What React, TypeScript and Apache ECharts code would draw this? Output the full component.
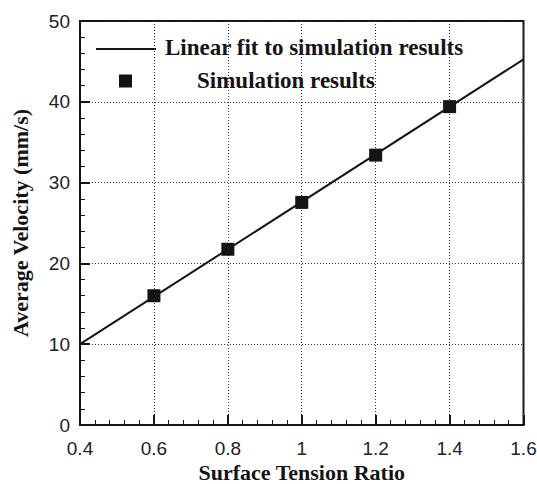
import React, { useEffect, useRef } from "react";
import * as echarts from "echarts";

const simX = [0.6, 0.8, 1.0, 1.2, 1.4];
const simY = [16.0, 21.75, 27.55, 33.4, 39.4];
const fitX = [0.4, 1.6];
const fitY = [10.0, 45.25];
const xTicks = { min: 0.4, max: 1.6, interval: 0.2 };
const yTicks = { min: 0, max: 50, interval: 10 };
const legendNames = ["Linear fit to simulation results", "Simulation results"];
const xTitle = "Surface Tension Ratio";
const yTitle = "Average Velocity (mm/s)";

const INK = "#141414";
const SERIF = "'Liberation Serif', 'Times New Roman', serif";
const SANS = "'Liberation Sans', Arial, sans-serif";

export default function App() {
  const ref = useRef<HTMLDivElement>(null);
  useEffect(() => {
    if (!ref.current) return;
    const chart = echarts.init(ref.current, undefined, { renderer: "svg" });
    const axisCommon = {
      axisLine: { show: true, onZero: false, lineStyle: { color: INK, width: 2 } },
      axisTick: { show: true, inside: true, length: 10, lineStyle: { color: INK, width: 2 } },
      minorTick: { show: true, splitNumber: 5, length: 5, lineStyle: { color: INK, width: 1 } },
      splitLine: { show: true, lineStyle: { color: "#333", width: 1, type: [1, 2] } },
      axisLabel: { color: "#222", fontSize: 19, fontFamily: SANS },
      nameTextStyle: { color: INK, fontSize: 23, fontWeight: "bold", fontFamily: SERIF },
      nameMoveOverlap: false,
    };
    chart.setOption({
      animation: false,
      grid: {
        left: 80,
        right: 13.5,
        top: 21,
        bottom: 59,
        show: true,
        borderColor: INK,
        borderWidth: 2,
        backgroundColor: "transparent",
        containLabel: false,
        outerBoundsMode: "none",
      },
      xAxis: {
        type: "value",
        ...xTicks,
        ...axisCommon,
        axisLabel: { ...axisCommon.axisLabel, margin: 14, formatter: (v: number) => String(+v.toFixed(2)) },
        name: xTitle,
        nameLocation: "middle",
        nameGap: 36,
        nameTextStyle: { ...axisCommon.nameTextStyle, fontSize: 22, lineHeight: 22 },
      },
      yAxis: {
        type: "value",
        ...yTicks,
        ...axisCommon,
        axisLabel: { ...axisCommon.axisLabel, margin: 10 },
        name: yTitle,
        nameLocation: "middle",
        nameGap: 49,
        nameTextStyle: { ...axisCommon.nameTextStyle, fontSize: 22 },
      },
      series: [
        {
          type: "line",
          name: legendNames[0],
          data: fitX.map((x, i) => [x, fitY[i]]),
          showSymbol: false,
          symbol: "none",
          lineStyle: { color: INK, width: 2 },
          z: 3,
        },
        {
          type: "scatter",
          name: legendNames[1],
          data: simX.map((x, i) => [x, simY[i]]),
          symbol: "rect",
          symbolSize: 13,
          itemStyle: { color: INK, opacity: 1 },
          z: 4,
        },
      ],
      graphic: [
        {
          type: "line",
          shape: { x1: 96, y1: 49, x2: 156, y2: 49 },
          style: { stroke: INK, lineWidth: 2 },
        },
        {
          type: "text",
          x: 165,
          y: 47,
          style: {
            text: legendNames[0],
            fill: INK,
            font: `bold 23px ${SERIF}`,
            verticalAlign: "middle",
          },
        },
        {
          type: "rect",
          shape: { x: 119, y: 74.5, width: 13, height: 13 },
          style: { fill: INK },
        },
        {
          type: "text",
          x: 197,
          y: 80,
          style: {
            text: legendNames[1],
            fill: INK,
            font: `bold 23px ${SERIF}`,
            verticalAlign: "middle",
          },
        },
      ],
    });
    return () => chart.dispose();
  }, []);
  return <div ref={ref} style={{ width: 537, height: 484, position: "absolute", left: 0, top: 0, background: "#fff" }} />;
}
